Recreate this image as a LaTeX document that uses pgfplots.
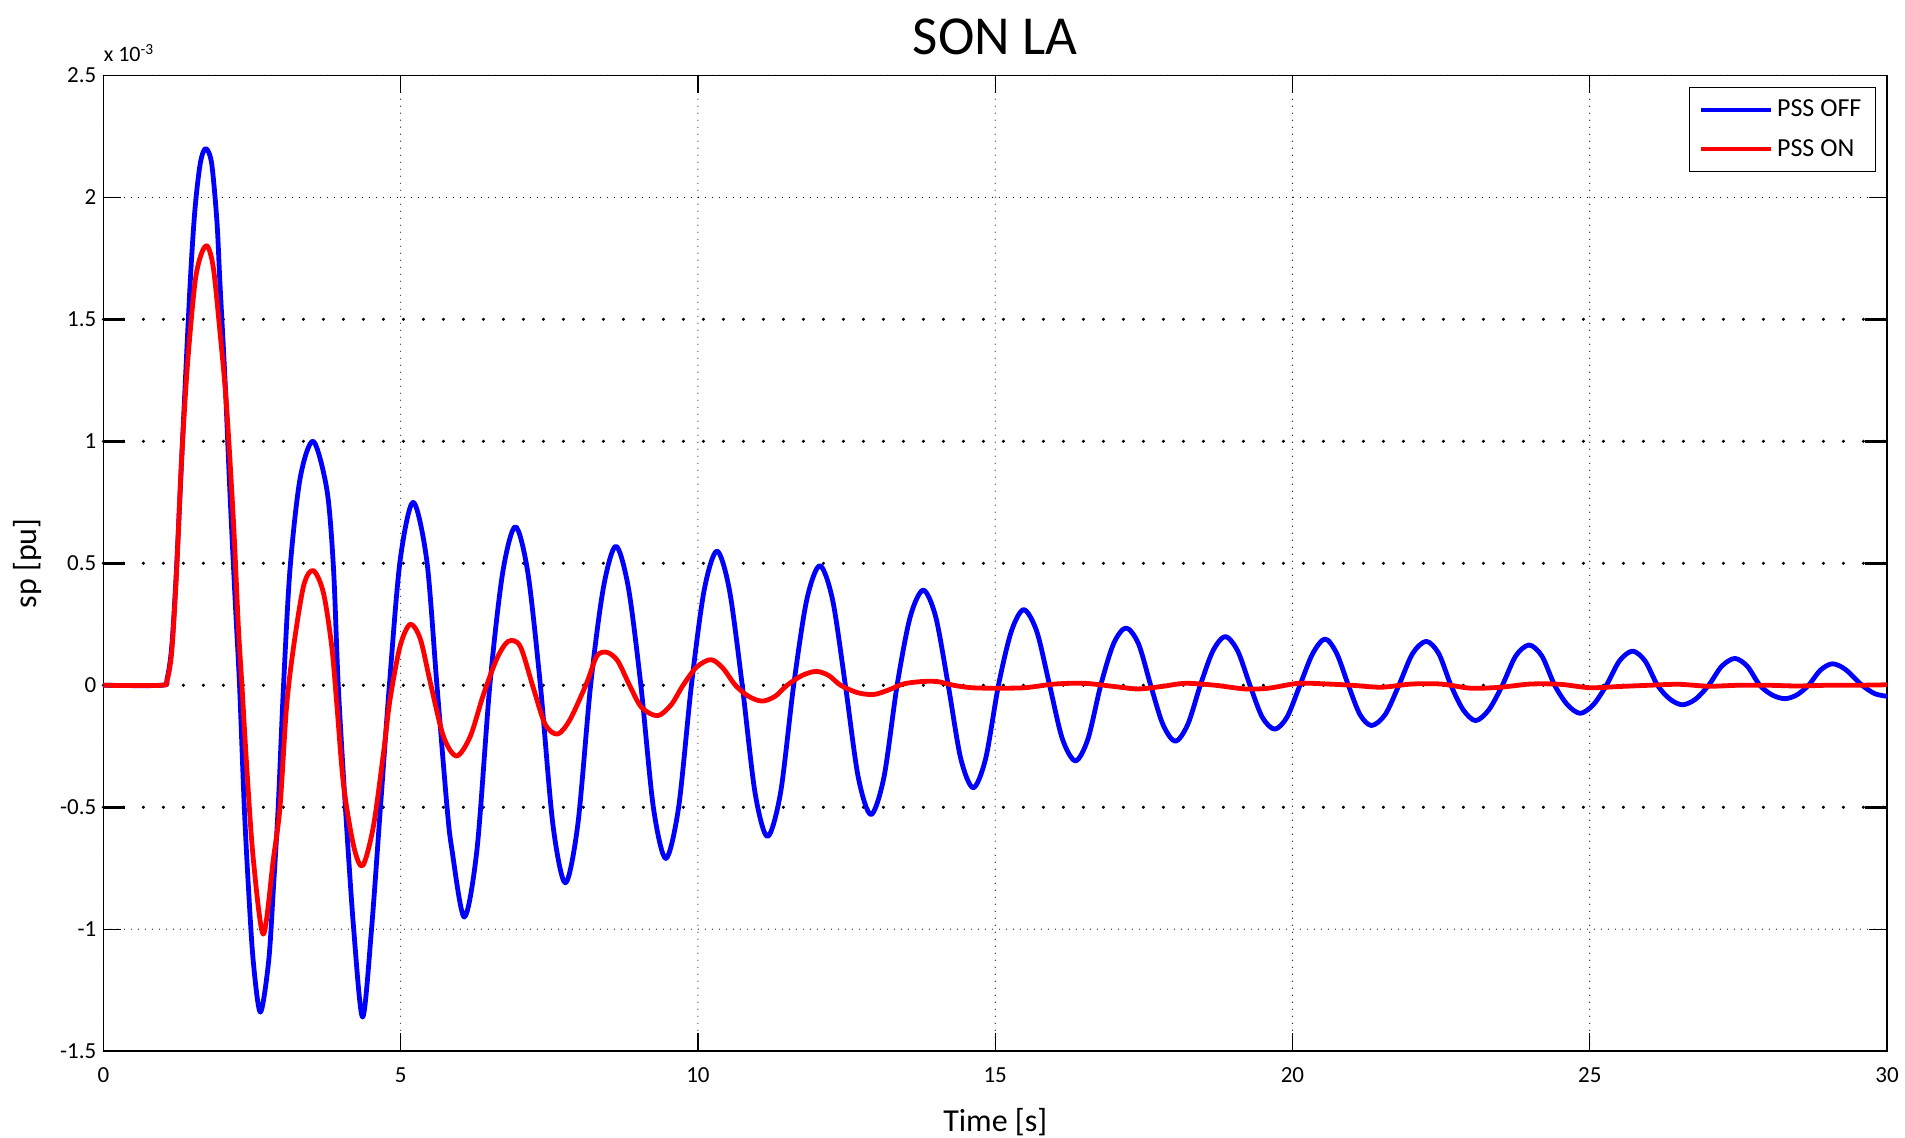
\documentclass[border=0pt]{standalone}
\usepackage{pgfplots}
\pgfplotsset{compat=1.18}
\usepackage{fontspec}
\setmainfont{Carlito}
\begin{document}
\begin{tikzpicture}
\useasboundingbox (0,0) rectangle (952.5pt,569pt);
\begin{axis}[
  name=ax,
  at={(51.7pt,43.4pt)}, anchor=south west,
  scale only axis, width=891.8pt, height=487.9pt,
  xmin=0, xmax=30, ymin=-1.5, ymax=2.5,
  xtick={0,5,10,15,20,25,30}, xticklabels={0,5,10,15,20,25,30},
  ytick={-1.5,-1,2,2.5}, yticklabels={-1.5,-1,2,2.5},
  extra y ticks={-0.5,0,0.5,1,1.5},
  extra y tick labels={-0.5,0,0.5,1,1.5},
  extra y tick style={
    grid style={black, line width=1.7pt, dash pattern=on 0pt off 10pt, line cap=round},
    tick style={black, line width=1.5pt}, major tick length=11pt},
  tick label style={font=\fontsize{11.5}{13}\selectfont},
  xticklabel style={yshift=-4.5pt},
  tick align=inside, major tick length=9pt,
  tick style={black, line width=0.6pt},
  xmajorgrids, ymajorgrids,
  grid style={black, line width=0.6pt, dash pattern=on 0pt off 3.5pt, line cap=round},
  axis line style={black, line width=0.8pt},
  title={SON LA},
  title style={font=\fontsize{27.5}{31}\selectfont, at={(axis description cs:0.5,1)}, anchor=center, yshift=13.5pt},
  xlabel={Time [s]},
  xlabel style={font=\fontsize{16}{19}\selectfont, at={(axis description cs:0.5,0)}, anchor=center, yshift=-35.5pt},
  ylabel={sp [pu]},
  ylabel style={font=\fontsize{16}{19}\selectfont, at={(axis description cs:-0.0428,0.5)}, anchor=center},
  legend style={at={(1,1)}, anchor=north east, xshift=-5.5pt, yshift=-5.8pt,
    draw=black, line width=0.6pt, font=\fontsize{13}{15}\selectfont,
    inner xsep=5pt, inner ysep=4pt, cells={anchor=west}, row sep=6pt},
  legend image code/.code={\draw[#1, line width=2pt] (0pt,0pt) -- (35pt,0pt);},
]
\addplot[color={rgb,255:red,0;green,0;blue,255}, line width=2.4pt, line join=round, smooth] coordinates {
(0,0) (0.98,0) (1.07,0.025) (1.15,0.16) (1.23,0.48) (1.34,1.05) (1.46,1.65) (1.54,1.95) (1.63,2.14) (1.72,2.20)
(1.82,2.14) (1.91,1.90) (1.96,1.65) (2.05,1.23) (2.13,0.78) (2.22,0.33) (2.29,0) (2.37,-0.5) (2.44,-0.83) (2.52,-1.13)
(2.64,-1.34) (2.78,-1.13) (2.86,-0.83) (2.94,-0.5) (3.03,0) (3.14,0.48) (3.31,0.85) (3.53,1.00) (3.76,0.80) (3.87,0.48)
(3.95,0) (4.07,-0.5) (4.21,-1.0) (4.36,-1.36) (4.51,-1.0) (4.66,-0.5) (4.81,0) (4.99,0.51) (5.21,0.75) (5.44,0.51)
(5.61,0) (5.78,-0.5) (5.86,-0.67) (6.07,-0.95) (6.285,-0.67) (6.50,0) (6.715,0.46) (6.93,0.65)
(7.14,0.46) (7.35,0) (7.56,-0.57) (7.77,-0.81)
(7.98,-0.57) (8.195,0) (8.41,0.40) (8.62,0.57)
(8.83,0.40) (9.04,0) (9.25,-0.50) (9.46,-0.71)
(9.675,-0.50) (9.89,0) (10.105,0.39) (10.32,0.55)
(10.53,0.39) (10.745,0) (10.96,-0.44) (11.17,-0.62)
(11.39,-0.44) (11.61,0) (11.83,0.35) (12.05,0.49)
(12.265,0.35) (12.48,0) (12.695,-0.375) (12.91,-0.53)
(13.13,-0.375) (13.35,0) (13.57,0.28) (13.79,0.39)
(14.0,0.28) (14.21,0) (14.42,-0.30) (14.63,-0.42)
(14.84,-0.30) (15.055,0) (15.27,0.22) (15.48,0.31)
(15.70,0.22) (15.915,0) (16.13,-0.22) (16.35,-0.31)
(16.56,-0.22) (16.775,0) (16.99,0.17) (17.2,0.235)
(17.41,0.17) (17.615,0) (17.82,-0.16) (18.03,-0.23)
(18.24,-0.16) (18.45,0) (18.66,0.14) (18.87,0.20)
(19.08,0.14) (19.285,0) (19.49,-0.13) (19.70,-0.18)
(19.91,-0.13) (20.125,0) (20.34,0.13) (20.55,0.19)
(20.745,0.13) (20.94,0) (21.135,-0.12) (21.33,-0.165)
(21.56,-0.12) (21.79,0) (22.02,0.13) (22.25,0.18)
(22.46,0.13) (22.665,0) (22.87,-0.10) (23.08,-0.145)
(23.305,-0.10) (23.53,0) (23.755,0.12) (23.98,0.165)
(24.195,0.12) (24.41,0) (24.625,-0.08) (24.84,-0.115)
(25.06,-0.08) (25.28,0) (25.50,0.10) (25.72,0.14)
(25.93,0.10) (26.14,0) (26.35,-0.057) (26.56,-0.08)
(26.78,-0.057) (27.0,0) (27.22,0.078) (27.44,0.11)
(27.65,0.078) (27.86,0) (28.07,-0.04) (28.28,-0.055)
(28.48,-0.04) (28.68,0) (28.88,0.062) (29.08,0.088)
(29.3,0.065) (29.58,0) (29.8,-0.035) (30,-0.045)
};
\addlegendentry{PSS OFF}
\addplot[color={rgb,255:red,255;green,0;blue,0}, line width=2.4pt, line join=round, smooth] coordinates {
(0,0) (0.97,0) (1.07,0.02) (1.15,0.14) (1.23,0.46) (1.31,0.9) (1.41,1.3) (1.54,1.65) (1.65,1.77) (1.75,1.80)
(1.85,1.71) (1.96,1.45) (2.07,1.15) (2.19,0.66) (2.27,0.24) (2.33,0) (2.41,-0.33) (2.52,-0.71) (2.69,-1.02) (2.86,-0.71)
(2.97,-0.5) (3.08,-0.09) (3.20,0.16) (3.37,0.41) (3.53,0.47) (3.70,0.38) (3.84,0.16) (3.93,-0.09) (4.04,-0.41) (4.21,-0.66)
(4.36,-0.74) (4.54,-0.58) (4.71,-0.28) (4.82,-0.06) (4.99,0.16) (5.16,0.25) (5.33,0.19) (5.50,0.01) (5.72,-0.21) (5.94,-0.29)
(6.17,-0.21) (6.39,-0.04) (6.62,0.11) (6.81,0.18) (7.01,0.16) (7.23,-0.01) (7.43,-0.16) (7.64,-0.20) (7.85,-0.14) (8.13,0.01)
(8.30,0.12) (8.47,0.135) (8.65,0.10) (8.85,0) (9.05,-0.09) (9.32,-0.125) (9.55,-0.08) (9.75,0) (9.98,0.075) (10.22,0.105)
(10.42,0.07) (10.63,0) (10.85,-0.045) (11.08,-0.065) (11.3,-0.045) (11.5,0) (11.75,0.04) (11.99,0.057) (12.2,0.04) (12.4,0)
(12.68,-0.03) (12.95,-0.038) (13.2,-0.02) (13.45,0.005) (13.75,0.015) (14.03,0.015) (14.3,0) (14.6,-0.01) (15.0,-0.012) (15.5,-0.01)
(16.0,0.005) (16.5,0.008) (17.0,-0.005) (17.4,-0.015) (17.8,-0.005) (18.2,0.008) (18.7,0) (19.2,-0.015) (19.6,-0.012) (20.1,0.008)
(20.6,0.005) (21.0,0) (21.5,-0.008) (22.0,0.005) (22.5,0.005) (23.0,-0.012) (23.5,-0.008) (24.0,0.005) (24.5,0.004) (25.0,-0.01)
(25.5,-0.005) (26.0,0) (26.5,0.004) (27.0,-0.004) (27.5,0) (28.0,0) (28.5,-0.003) (29.0,0) (29.5,0) (30,0.002)
};
\addlegendentry{PSS ON}
\end{axis}
\node[anchor=base west, inner sep=0pt, font=\fontsize{11}{13}\selectfont] at ([yshift=6.7pt]ax.north west) {x 10\textsuperscript{-3}};
\end{tikzpicture}
\end{document}
